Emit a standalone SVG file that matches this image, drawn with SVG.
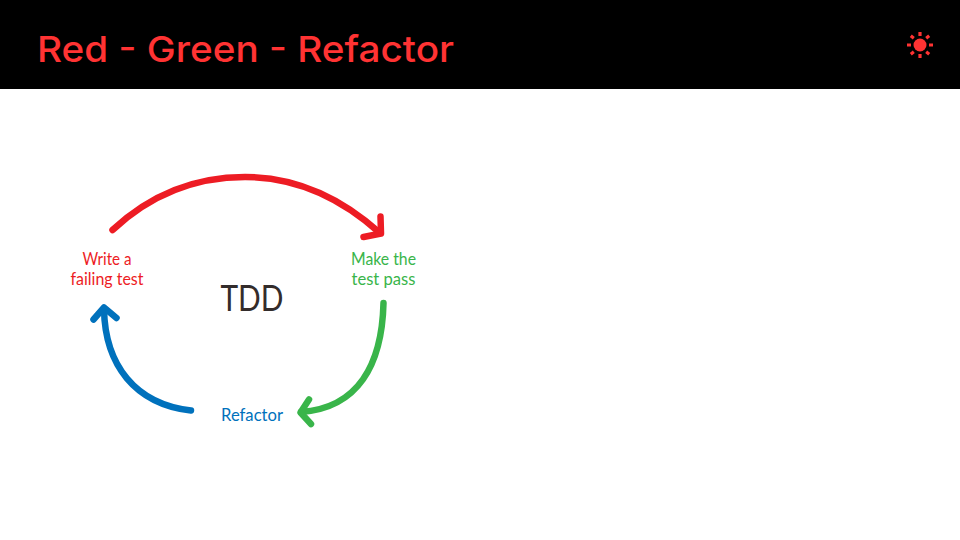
<svg xmlns="http://www.w3.org/2000/svg" width="960" height="540" viewBox="0 0 960 540">
<style>
.a{fill:none;stroke-width:6.500;stroke-linecap:round;stroke-linejoin:round}
.t{font-family:"Lato","Liberation Sans",sans-serif;font-size:16.500px;font-weight:400;text-anchor:middle}
.r{stroke:#ed1c24}.g{stroke:#39b54a}.b{stroke:#0071bc}
</style>
<rect width="960" height="540" fill="#fff"/>
<g id="header">
<rect width="960" height="89" fill="#000"/>
<text x="37" y="62" font-family="Inter,'Open Sans',sans-serif" font-size="36" font-weight="500" fill="#ff3333" textLength="417" lengthAdjust="spacingAndGlyphs">Red - Green - Refactor</text>
</g>
<g id="sun-icon" fill="#ff3333" stroke="#ff3333">
<circle cx="920" cy="45" r="6.500" stroke="none"/>
<g stroke-width="3.200" stroke-linecap="butt">
<path d="M920 32V36M920 54V58M907 45H911M929 45H933M910.800 35.800L913.800 38.200M926.200 51.800L929.200 54.200M910.800 54.200L913.800 51.800M926.200 38.200L929.200 35.800"/>
</g>
</g>
<g id="connectors">
<g id="red-arrow" class="a r">
<path d="M112.500 230C150 195 195 177 245 177C295 177 340 197 380 233"/>
<path d="M380.500 216.500L381 233.500L363.500 237"/>
</g>
<g id="green-arrow" class="a g">
<path d="M383.500 303C382 365 358 408 301 412"/>
<path d="M309 399.500L300.500 412.500L311 424"/>
</g>
<g id="blue-arrow" class="a b">
<path d="M191 410.500C135 404 105 365 104 309"/>
<path d="M93.500 319.500L104 307.500L116.500 318"/>
</g>
</g>
<g id="node-write">
<text class="t" x="107" y="265" fill="#ed1c24" textLength="49" lengthAdjust="spacingAndGlyphs">Write a</text>
<text class="t" x="107" y="285" fill="#ed1c24" textLength="73" lengthAdjust="spacingAndGlyphs">failing test</text>
</g>
<g id="node-make">
<text class="t" x="383.500" y="265" fill="#39b54a" textLength="65" lengthAdjust="spacingAndGlyphs">Make the</text>
<text class="t" x="383.500" y="285" fill="#39b54a" textLength="64" lengthAdjust="spacingAndGlyphs">test pass</text>
</g>
<g id="node-refactor">
<text class="t" x="252" y="421" fill="#0071bc" textLength="62" lengthAdjust="spacingAndGlyphs">Refactor</text>
</g>
<g id="node-tdd">
<text x="252" y="311" font-family="Lato,'Liberation Sans',sans-serif" font-size="37" text-anchor="middle" fill="#332c2b" textLength="63" lengthAdjust="spacingAndGlyphs">TDD</text>
</g>
</svg>
